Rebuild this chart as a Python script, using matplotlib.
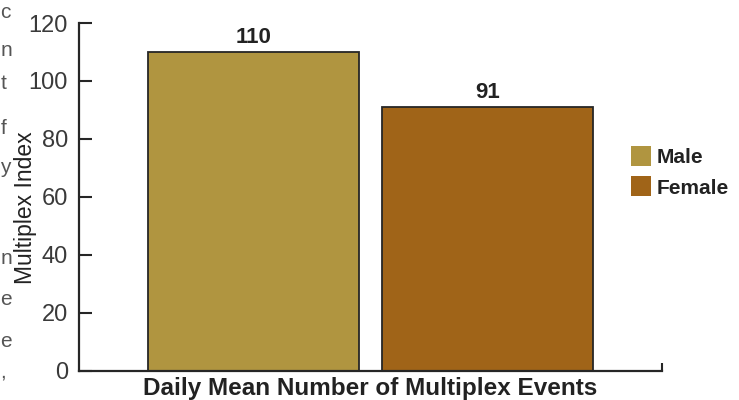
import matplotlib
matplotlib.use("Agg")
import matplotlib.pyplot as plt
from matplotlib.patches import Patch

plt.rcParams['font.family'] = ['Liberation Sans', 'DejaVu Sans']

# Data
groups = ["Male", "Female"]
values = [110, 91]
colors = ["#B09540", "#A06418"]
y_ticks = [0, 20, 40, 60, 80, 100, 120]
x_title = "Daily Mean Number of Multiplex Events"
y_title = "Multiplex Index"

# Fragments of running page text at the left margin
margin_chars = ["c", "n", "t", "f", "y", "n", "e", "e", ","]
margin_baselines = [18, 56, 89, 134, 173, 264, 305, 347, 378]

W, H = 739, 400
fig = plt.figure(figsize=(W / 100, H / 100), dpi=100)
ax = fig.add_axes([79 / W, 29.5 / H, 583 / W, 347.5 / H])

x = list(range(len(values)))
bars = ax.bar(x, values, width=0.902, color=colors, edgecolor="#262626",
              linewidth=1.3, zorder=2)
ax.bar_label(bars, labels=[str(v) for v in values], padding=3,
             fontsize=16, fontweight="bold", color="#222222")

ax.set_xlim(-0.746, 1.746)
ax.set_ylim(0, 120)
ax.set_yticks(y_ticks)
ax.set_xticks([1.746])
ax.set_xticklabels([""])

for side in ("top", "right"):
    ax.spines[side].set_visible(False)
for side in ("left", "bottom"):
    ax.spines[side].set_linewidth(1.6)
    ax.spines[side].set_color("#262626")

ax.tick_params(axis="y", direction="in", length=9.5, width=1.5, pad=8,
               labelsize=17, labelcolor="#3a3a3a", color="#262626")
ax.tick_params(axis="x", direction="in", length=6, width=1.5, color="#262626")

ax.set_xlabel(x_title, fontsize=17.5, fontweight="bold", color="#222222")
ax.xaxis.set_label_coords(0.5, -6.0 / 347.5)
ax.set_ylabel(y_title, fontsize=16.5, color="#222222")
ax.yaxis.set_label_coords(-0.072, 0.468)

handles = [Patch(facecolor=c, edgecolor="none") for c in colors]
fig.legend(handles, groups, loc="upper left",
           bbox_to_anchor=(631 / W, 1 - 146 / H), frameon=False,
           prop={"size": 15, "weight": "bold"}, handlelength=0.95,
           handleheight=1.1, handletextpad=0.3, labelspacing=0.45,
           borderpad=0, borderaxespad=0, labelcolor="#222222")

for ch, yb in zip(margin_chars, margin_baselines):
    fig.text(0.5 / W, 1 - yb / H, ch, ha="left", va="baseline",
             fontsize=15, color="#555555")

fig.savefig("out.png", dpi=100)
